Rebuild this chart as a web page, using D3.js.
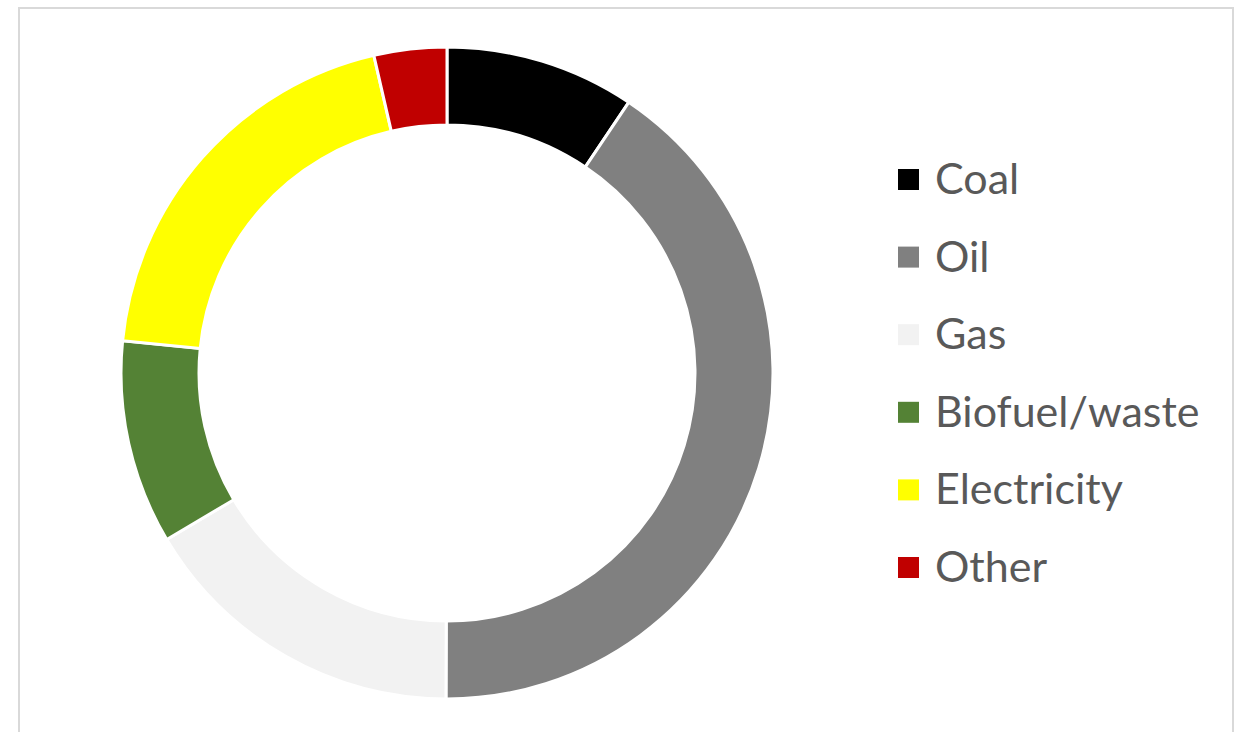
<!DOCTYPE html>
<html>
<head>
<meta charset="utf-8">
<script src="https://cdn.jsdelivr.net/npm/d3@7"></script>
<style>
  body { margin: 0; background: #fff; }
  svg { display: block; }
</style>
</head>
<body>
<div id="chart"></div>
<script>
// energy share by fuel, percent
var categories = ["Coal", "Oil", "Gas", "Biofuel/waste", "Electricity", "Other"];
var values = [9.4, 40.6, 16.4, 10.1, 19.8, 3.6];
var colors = ["#000000", "#808080", "#f2f2f2", "#548235", "#ffff00", "#c00000"];

var data = categories.map(function(c, i) { return {name: c, value: values[i]} });

var width = 1235, height = 732;
var cx = 447, cy = 373;
var outerR = 326, innerR = 248;

var svg = d3.select("#chart").append("svg")
  .attr("width", width)
  .attr("height", height);

// chart area frame
svg.append("rect")
  .attr("x", 19).attr("y", 8)
  .attr("width", 1214).attr("height", 740)
  .attr("fill", "#fff")
  .attr("stroke", "#d9d9d9")
  .attr("stroke-width", 2);

var color = d3.scaleOrdinal().domain(categories).range(colors);

var pie = d3.pie().sort(null).value(d => d.value);
var arc = d3.arc().innerRadius(innerR).outerRadius(outerR);

svg.append("g")
  .attr("transform", `translate(${cx},${cy})`)
  .selectAll("path")
  .data(pie(data))
  .enter().append("path")
  .attr("d", arc)
  .attr("fill", d => color(d.data.name))
  .attr("stroke", "#fff")
  .attr("stroke-width", 3)
  .attr("stroke-linejoin", "miter");

// legend
var ly = d3.scalePoint()
  .domain(categories)
  .range([180, 568]);

var legend = svg.append("g")
  .selectAll("g")
  .data(data)
  .enter().append("g")
  .attr("transform", d => `translate(898,${ly(d.name)})`);

legend.append("rect")
  .attr("x", 0).attr("y", -11)
  .attr("width", 21).attr("height", 21)
  .attr("fill", d => color(d.name));

legend.append("text")
  .attr("x", 37)
  .attr("y", 14)
  .attr("fill", "#595959")
  .style("font-family", "Lato, 'Open Sans', sans-serif")
  .style("font-size", "43px")
  .text(d => d.name);
</script>
</body>
</html>
